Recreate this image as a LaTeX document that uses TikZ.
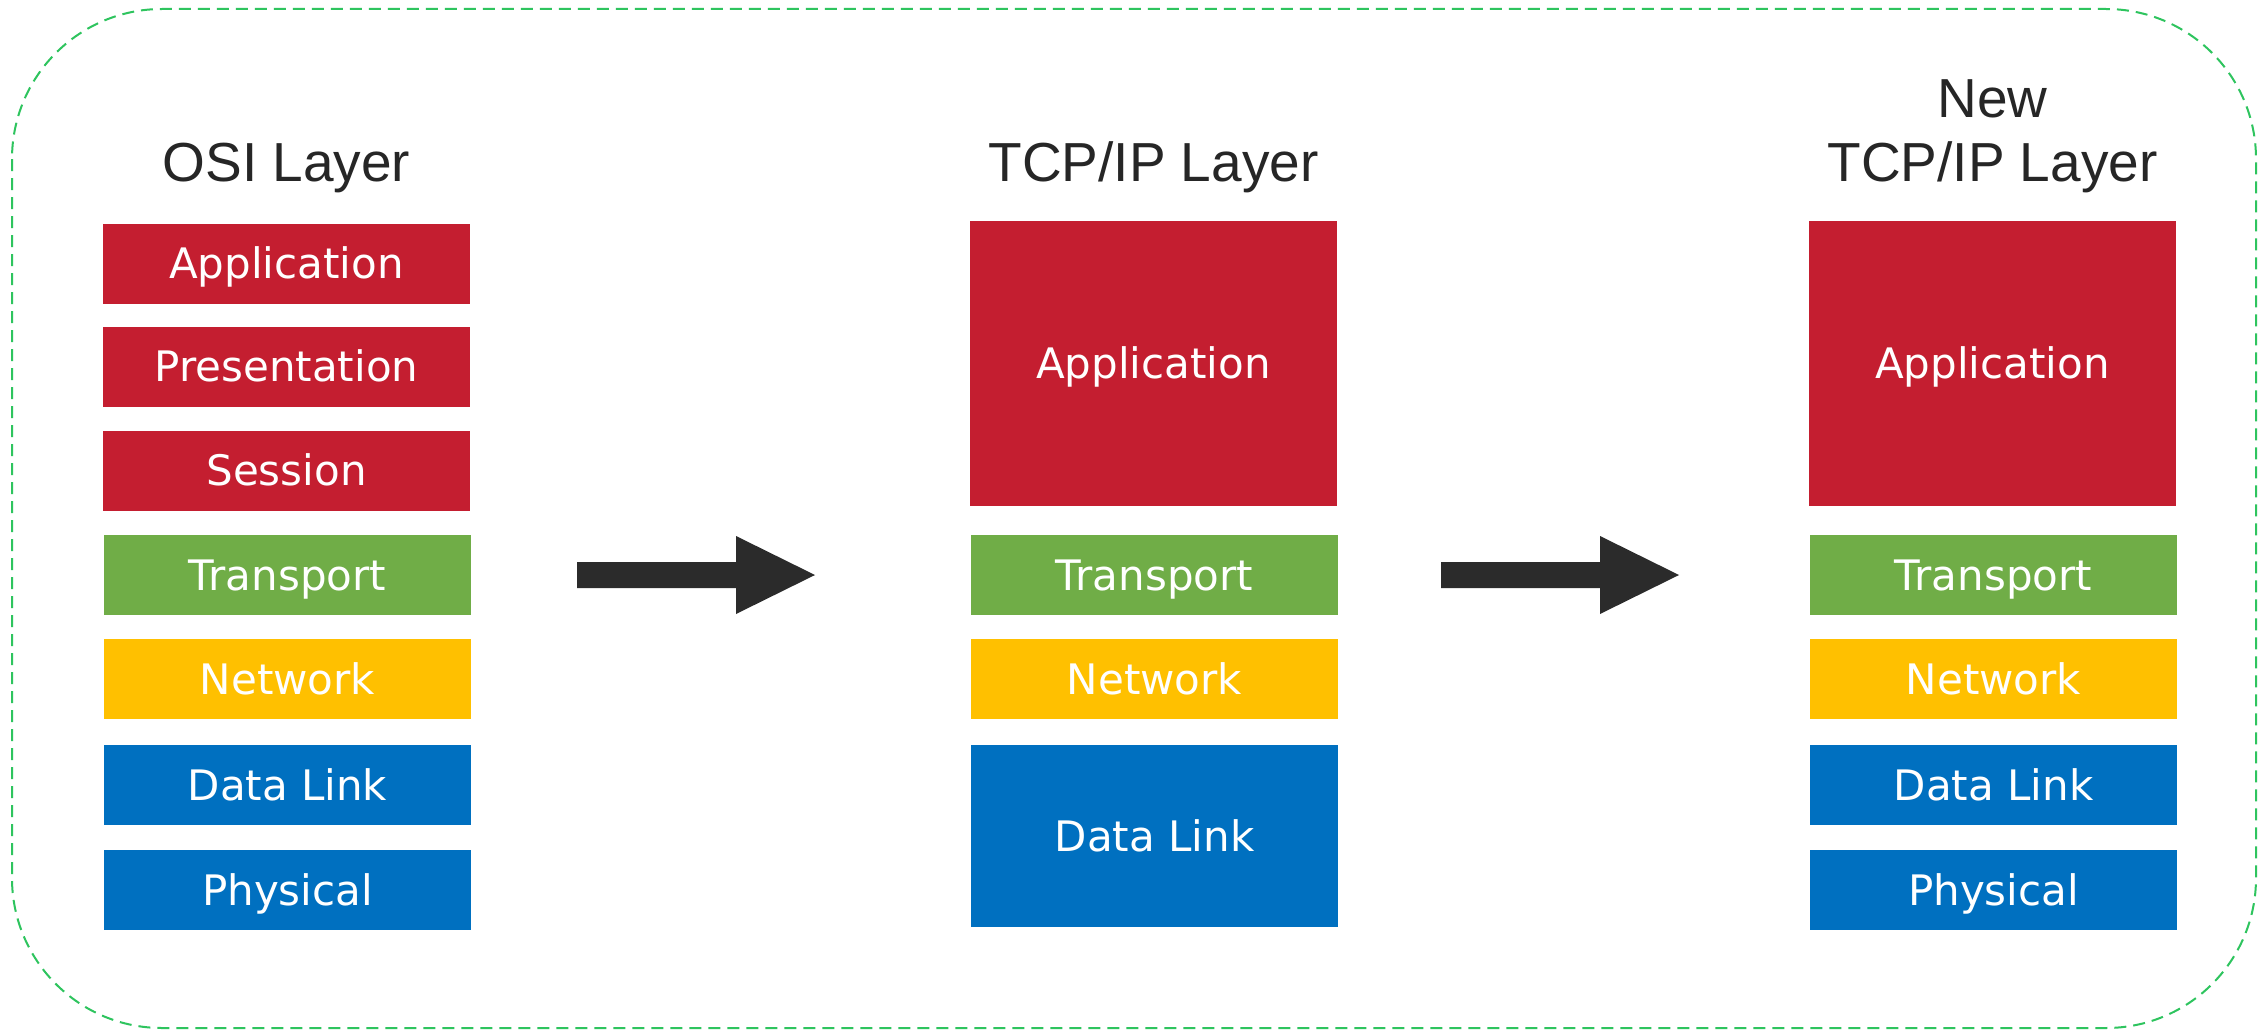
\documentclass[tikz,border=0pt]{standalone}
\usepackage{fontspec}
\setmainfont{Liberation Sans}
\newfontfamily\boxfont{DejaVu Sans}
\definecolor{lred}{HTML}{C41E30}
\definecolor{lgreen}{HTML}{70AD47}
\definecolor{lyellow}{HTML}{FFC000}
\definecolor{lblue}{HTML}{0070C0}
\definecolor{darkarrow}{HTML}{2B2B2B}
\definecolor{titlegray}{HTML}{262626}
\definecolor{bordergreen}{HTML}{2EC45E}
\begin{document}
\begin{tikzpicture}[x=1pt,y=-1pt,
  layer/.style={fill=#1, draw=none, inner sep=0pt, minimum width=367pt, minimum height=80pt,
    text=white, font=\boxfont\fontsize{42}{50}\selectfont, text height=30.5pt, text depth=0pt},
  title/.style={text=titlegray, inner sep=0pt, align=center, font=\fontsize{55}{64}\selectfont},
  blockarrow/.style={fill=darkarrow, draw=none}]
\useasboundingbox (0,0) rectangle (2267,1030);
\fill[white] (0,0) rectangle (2267,1030);
% dashed frame
\draw[bordergreen, line width=2pt, dash pattern=on 12pt off 7pt, rounded corners=150pt]
  (12,9) rectangle (2256,1028);
% OSI column
\node[title, anchor=base] (osititle) at (286.5,181) {OSI Layer};
\node[layer=lred] (osiapp) at (286.5,263.5) {Application};
\node[layer=lred] (osipres) at (286.5,366.5) {Presentation};
\node[layer=lred] (osisess) at (286.5,470.5) {Session};
\node[layer=lgreen] (ositrans) at (287.5,575) {Transport};
\node[layer=lyellow] (osinet) at (287.5,679) {Network};
\node[layer=lblue] (osidl) at (287.5,785) {Data Link};
\node[layer=lblue] (osiphy) at (287.5,890) {Physical};
% TCP/IP column
\node[title, anchor=base] (tcptitle) at (1153.5,181) {TCP/IP Layer};
\node[layer=lred, minimum height=285pt] (tcpapp) at (1153.5,363.5) {Application};
\node[layer=lgreen] (tcptrans) at (1154.5,575) {Transport};
\node[layer=lyellow] (tcpnet) at (1154.5,679) {Network};
\node[layer=lblue, minimum height=182pt] (tcpdl) at (1154.5,836) {Data Link};
% New TCP/IP column
\node[title, anchor=base] (newtitle) at (1992.5,181) {New\\TCP/IP Layer};
\node[layer=lred, minimum height=285pt] (newapp) at (1992.5,363.5) {Application};
\node[layer=lgreen] (newtrans) at (1993.5,575) {Transport};
\node[layer=lyellow] (newnet) at (1993.5,679) {Network};
\node[layer=lblue] (newdl) at (1993.5,785) {Data Link};
\node[layer=lblue] (newphy) at (1993.5,890) {Physical};
% arrows
\fill[blockarrow] (577,562) -- (736,562) -- (736,536) -- (815,575) -- (736,614) -- (736,588) -- (577,588) -- cycle;
\fill[blockarrow] (1441,562) -- (1600,562) -- (1600,536) -- (1679,575) -- (1600,614) -- (1600,588) -- (1441,588) -- cycle;
\end{tikzpicture}
\end{document}
